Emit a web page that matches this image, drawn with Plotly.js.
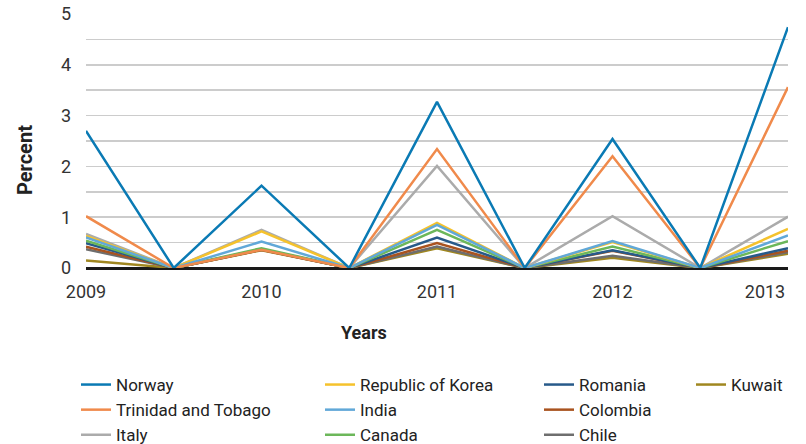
<!DOCTYPE html>
<html>
<head>
<meta charset="utf-8">
<script src="https://cdn.plot.ly/plotly-3.0.1.min.js"></script>
<style>html,body{margin:0;padding:0;background:#fff}#chart{width:806px;height:444px}</style>
</head>
<body>
<div id="chart"></div>
<script>
// x positions: each year plus the gap point between years
const xPoints = [2009, 2009.5, 2010, 2010.5, 2011, 2011.5, 2012, 2012.5, 2013];
const tickYears = [2009, 2010, 2011, 2012, 2013];
const tickLabels = ['2009', '2010', '2011', '2012', '2013'];

const norway    = [2.70, 0, 1.62, 0, 3.27, 0, 2.54, 0, 4.74];
const trinidad  = [1.02, 0, 0.36, 0, 2.34, 0, 2.20, 0, 3.56];
const italy     = [0.67, 0, 0.75, 0, 2.01, 0, 1.02, 0, 1.01];
const korea     = [0.63, 0, 0.72, 0, 0.89, 0, 0.51, 0, 0.77];
const india     = [0.60, 0, 0.52, 0, 0.85, 0, 0.53, 0, 0.64];
const canada    = [0.54, 0, 0.39, 0, 0.75, 0, 0.42, 0, 0.53];
const romania   = [0.49, 0, 0.37, 0, 0.60, 0, 0.35, 0, 0.39];
const colombia  = [0.42, 0, 0.36, 0, 0.49, 0, 0.34, 0, 0.34];
const chile     = [0.37, 0, 0.36, 0, 0.42, 0, 0.24, 0, 0.31];
const kuwait    = [0.15, 0, 0.35, 0, 0.39, 0, 0.20, 0, 0.28];

const series = [
  {name: 'Norway', y: norway, color: '#0a7ab4', legend: 'legend'},
  {name: 'Trinidad and Tobago', y: trinidad, color: '#f08a4b', legend: 'legend'},
  {name: 'Italy', y: italy, color: '#ababab', legend: 'legend'},
  {name: 'Republic of Korea', y: korea, color: '#f5c22c', legend: 'legend2'},
  {name: 'India', y: india, color: '#61a8d8', legend: 'legend2'},
  {name: 'Canada', y: canada, color: '#6cb75a', legend: 'legend2'},
  {name: 'Romania', y: romania, color: '#275a8a', legend: 'legend3'},
  {name: 'Colombia', y: colombia, color: '#a9531f', legend: 'legend3'},
  {name: 'Chile', y: chile, color: '#6e6e6e', legend: 'legend3'},
  {name: 'Kuwait', y: kuwait, color: '#a08720', legend: 'legend4'}
];

// stacking order of the lines, bottom to top (indices into series)
const drawOrder = [9, 8, 7, 6, 5, 2, 3, 4, 1, 0];

const traces = drawOrder.map(i => {
  const s = series[i];
  return {
    type: 'scatter', mode: 'lines', name: s.name, x: xPoints, y: s.y,
    line: {color: s.color, width: 2.5}, legend: s.legend, legendrank: i + 1,
    // the top line sits on the overlaid x axis that carries the last year label
    xaxis: i === 0 ? 'x2' : 'x'
  };
});

const plotL = 86, plotW = 702, plotT = 14, plotH = 254;
const px2x = px => (px - plotL) / plotW;
const px2y = py => (plotT + plotH - py) / plotH;

const tickFont = {family: 'Roboto, sans-serif', size: 18, color: '#333'};
const legendFont = {family: 'Roboto, sans-serif', size: 17, color: '#222'};
function mkLegend(textPx) {
  return {
    xref: 'paper', yref: 'container', x: px2x(textPx - 40), y: 1 - 367 / 444,
    xanchor: 'left', yanchor: 'top', orientation: 'v', traceorder: 'normal',
    font: legendFont, bgcolor: 'rgba(0,0,0,0)', borderwidth: 0, tracegroupgap: 0
  };
}

const nLast = tickYears.length - 1;

const layout = {
  width: 806, height: 444,
  margin: {l: plotL, r: 806 - plotL - plotW, t: plotT, b: 444 - plotT - plotH},
  paper_bgcolor: '#fff', plot_bgcolor: '#fff',
  font: {family: 'Roboto, sans-serif', size: 18, color: '#333'},
  showlegend: true,
  xaxis: {
    range: [2009, 2013], tickvals: tickYears.slice(0, nLast), ticktext: tickLabels.slice(0, nLast),
    showgrid: false, zeroline: false, showline: false, ticks: '',
    ticklabelstandoff: 11, tickfont: tickFont
  },
  // last year label is pulled inward so it stays inside the figure, as in the reference
  xaxis2: {
    overlaying: 'x', matches: 'x', anchor: 'y', side: 'bottom',
    tickvals: tickYears.slice(nLast), ticktext: tickLabels.slice(nLast),
    showgrid: false, zeroline: false, showline: false, ticks: '',
    ticklabelstandoff: 11, ticklabelshift: -23, ticklabeloverflow: 'allow', tickfont: tickFont
  },
  yaxis: {
    range: [0, 5], dtick: 1, tick0: 0,
    showgrid: true, gridcolor: '#cccccc', gridwidth: 1.5,
    minor: {dtick: 0.5, showgrid: true, gridcolor: '#cccccc', gridwidth: 1.5},
    zeroline: true, zerolinecolor: '#1a1a1a', zerolinewidth: 3,
    showline: false, ticks: '', ticklabelstandoff: 14, tickfont: tickFont
  },
  annotations: [
    {text: 'Years', xref: 'paper', yref: 'paper', x: px2x(364), y: px2y(332),
     xanchor: 'center', yanchor: 'middle', showarrow: false,
     font: {family: 'Roboto, sans-serif', size: 18, color: '#222', weight: 'bold'}},
    {text: 'Percent', xref: 'paper', yref: 'paper', x: px2x(25), y: px2y(160),
     xanchor: 'center', yanchor: 'middle', showarrow: false, textangle: -90,
     font: {family: 'Roboto, sans-serif', size: 20, color: '#222', weight: 'bold'}}
  ],
  legend: mkLegend(116),
  legend2: mkLegend(360),
  legend3: mkLegend(579),
  legend4: mkLegend(731)
};

Plotly.newPlot('chart', traces, layout, {displayModeBar: false, staticPlot: true});
</script>
</body>
</html>
